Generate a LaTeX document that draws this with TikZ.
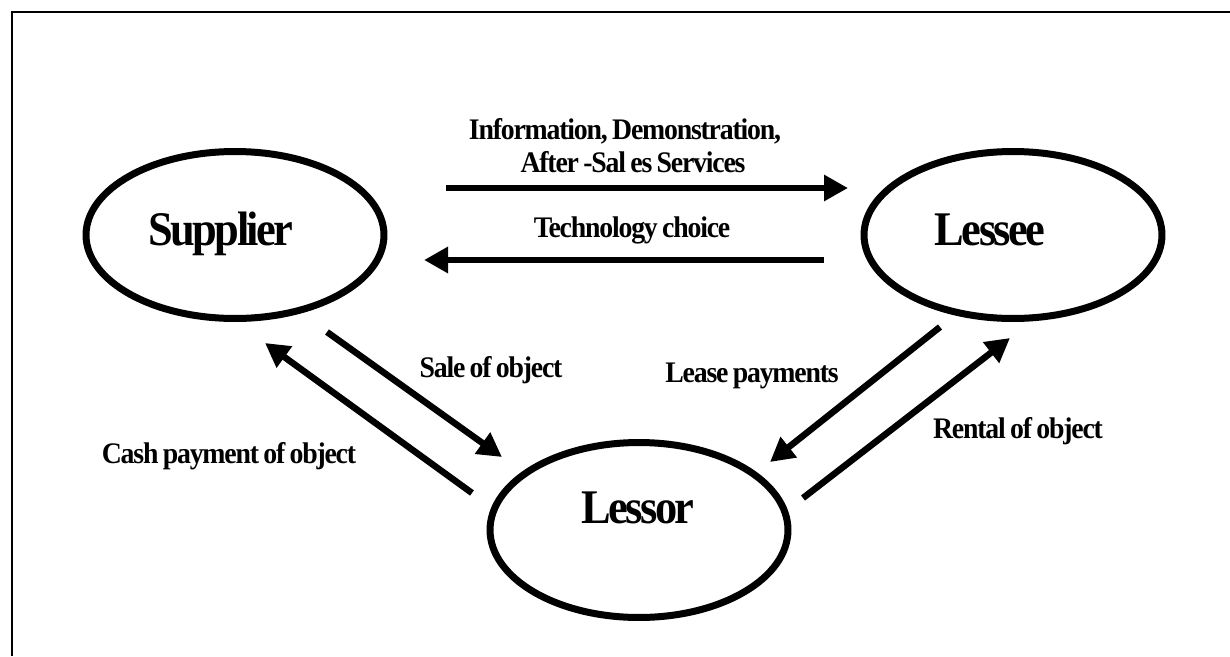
\documentclass[tikz,border=0pt]{standalone}
\usepackage{fontspec}
\newfontfamily\diafont[FakeStretch=0.92,LetterSpace=-5.5,WordSpace=0.7]{Liberation Serif}
\newfontfamily\flowfont[FakeStretch=0.93,LetterSpace=-4,WordSpace=0.75]{Liberation Serif}
\usetikzlibrary{shapes.geometric,arrows.meta}

\begin{document}
\begin{tikzpicture} [
                x=0.02cm, y=-0.02cm,
                party/.style={
                    ellipse,
                    draw,
                    line width=0.14cm,
                    inner sep=0pt,
                    minimum width=5.96cm,
                    minimum height=3.34cm
                },
                partyname/.style={
                    anchor=base,
                    inner sep=0pt,
                    font=\diafont\bfseries\fontsize{27.5}{30}\selectfont
                },
                flowlabel/.style={
                    anchor=base,
                    inner sep=0pt,
                    align=center,
                    font=\flowfont\bfseries\fontsize{17}{18.8}\selectfont
                },
                flow/.style={
                    line width=0.13cm,
                    -{Triangle[length=0.48cm, width=0.5cm]}
                }
            ]

                \useasboundingbox (0,0) rectangle (1230,656);
                \draw[line width=0.05cm] (12,656) -- (12,12) -- (1230,12);

                \node[party]                        (supplier)  at (235,235)    {};
                \node[party]                        (lessee)    at (1013,235)   {};
                \node[party, minimum height=3.5cm]  (lessor)    at (639,530)    {};

                \node[partyname]    (suppliername)  at (221,245)    {Supplier};
                \node[partyname]    (lesseename)    at (990,245)    {Lessee};
                \node[partyname]    (lessorname)    at (638,523)    {Lessor};

                \coordinate (info0)     at (446,188);
                \coordinate (info1)     at (848,188);
                \coordinate (tech0)     at (824,260);
                \coordinate (tech1)     at (424,260);
                \coordinate (sale0)     at (327,332);
                \coordinate (sale1)     at (502,457);
                \coordinate (cash0)     at (472,493);
                \coordinate (cash1)     at (265,343);
                \coordinate (lease0)    at (940,327);
                \coordinate (lease1)    at (770,462);
                \coordinate (rent0)     at (803,498);
                \coordinate (rent1)     at (1010,338);

                \draw[flow] (info0)  -- (info1);
                \draw[flow] (tech0)  -- (tech1);
                \draw[flow] (sale0)  -- (sale1);
                \draw[flow] (cash0)  -- (cash1);
                \draw[flow] (lease0) -- (lease1);
                \draw[flow] (rent0)  -- (rent1);

                \node[flowlabel]    (infolabel)     at (625,139)    {Information, Demonstration,};
                \node[flowlabel]    (afterlabel)    at (633,172)    {After -Sal es Services};
                \node[flowlabel]    (techlabel)     at (632,237)    {Technology choice};
                \node[flowlabel]    (salelabel)     at (491,377)    {Sale of object};
                \node[flowlabel]    (cashlabel)     at (229,463)    {Cash payment of object};
                \node[flowlabel]    (leaselabel)    at (752,382)    {Lease payments};
                \node[flowlabel]    (rentlabel)     at (1018,438)   {Rental of object};

            \end{tikzpicture}
\end{document}
